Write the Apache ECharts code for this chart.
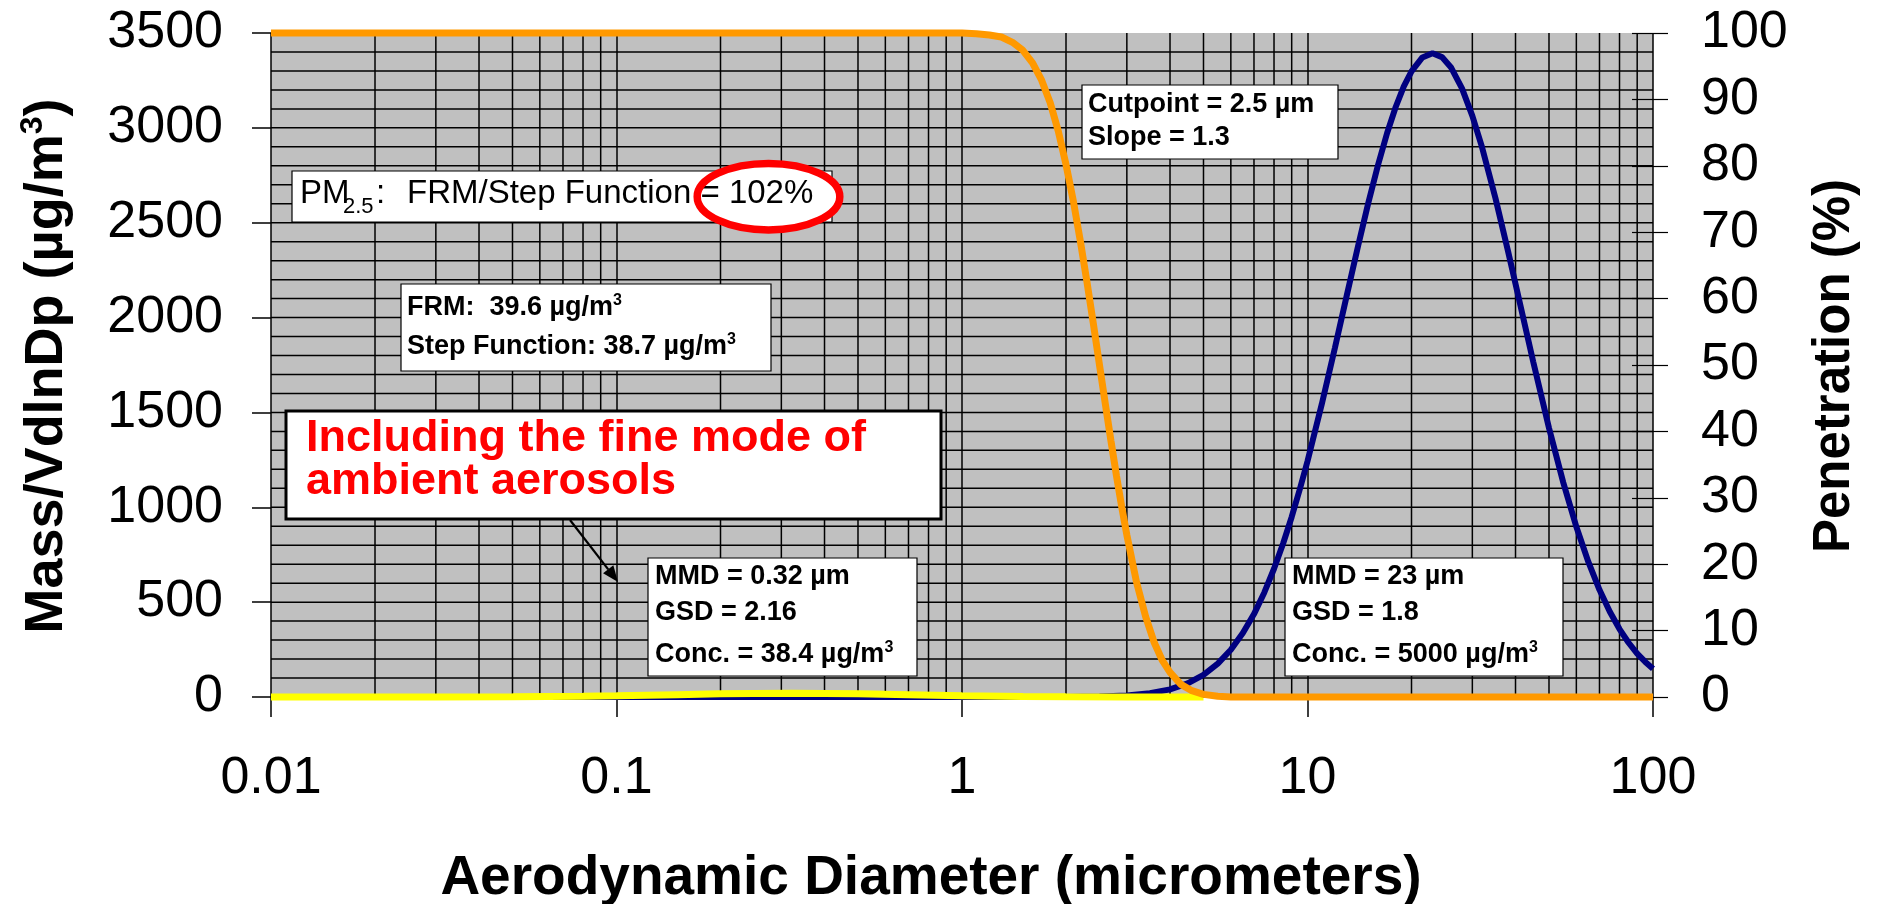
<!DOCTYPE html>
<html>
<head>
<meta charset="utf-8">
<script src="https://cdn.jsdelivr.net/npm/echarts@6/dist/echarts.min.js"></script>
<style>
  html, body { margin: 0; padding: 0; background: #ffffff; }
  #chart { width: 1881px; height: 904px; }
</style>
</head>
<body>
<div id="chart"></div>
<script>
// FRM inlet penetration curve (right axis, %)
const penetrationDp = [0.01, 0.1, 1.0, 1.1, 1.2, 1.3, 1.4, 1.5, 1.6, 1.7, 1.8, 1.9, 2.0, 2.1, 2.2, 2.3, 2.4, 2.5, 2.6, 2.7, 2.8, 2.9, 3.0, 3.2, 3.4, 3.6, 3.8, 4.0, 4.3, 4.6, 5.0, 5.5, 6.0, 10, 100];
const penetrationPct = [100, 100, 100, 99.9, 99.7, 99.4, 98.6, 97.4, 95.5, 92.9, 89.5, 85.2, 80.2, 74.7, 68.7, 62.5, 56.2, 50.0, 44.1, 38.5, 33.3, 28.6, 24.4, 17.3, 12.1, 8.2, 5.5, 3.7, 1.9, 1.0, 0.4, 0.1, 0, 0, 0];

// Coarse-mode mass distribution (left axis, ug/m3)
const coarseDp = [0.01, 0.1, 1.0, 2.0, 2.5, 3.0, 3.5, 4.0, 4.5, 5.0, 5.5, 6.0, 6.5, 7.0, 7.5, 8.0, 8.5, 9.0, 9.5, 10, 11, 12, 13, 14, 15, 16, 17, 18, 19, 20, 21.5, 23, 24.5, 26, 28, 30, 32, 35, 38, 40, 45, 50, 55, 60, 65, 70, 75, 80, 85, 90, 95, 100];
const coarseMass = [0, 0, 0, 0.6, 2.7, 8.4, 20, 40, 72, 117, 176, 249, 337, 437, 551, 676, 809, 949, 1095, 1243, 1544, 1839, 2119, 2375, 2605, 2804, 2973, 3110, 3219, 3298, 3371, 3393, 3373, 3320, 3208, 3063, 2898, 2629, 2355, 2178, 1768, 1418, 1130, 897, 712, 565, 449, 358, 286, 229, 185, 149];

// Fine-mode mass distribution (left axis, ug/m3)
const fineDp = [0.01, 0.03, 0.05, 0.08, 0.1, 0.15, 0.2, 0.25, 0.32, 0.4, 0.5, 0.7, 1.0, 1.5, 2.0, 3.0, 5.0];
const fineMass = [0, 0.2, 1.1, 3.9, 6.4, 12.3, 16.5, 18.9, 19.9, 19.1, 16.8, 11.9, 6.7, 2.6, 0.9, 0.1, 0];

// Axis tick labels
const diameterTicks = ['0.01', '0.1', '1', '10', '100'];
const massTicks = ['0', '500', '1000', '1500', '2000', '2500', '3000', '3500'];
const penetrationTicks = ['0', '10', '20', '30', '40', '50', '60', '70', '80', '90', '100'];

// Plot gridlines: log minors 2..9 per decade, and a horizontal line every 100 ug/m3 below the top edge
const decadeStarts = [0.01, 0.1, 1, 10];
const minorSteps = [2, 3, 4, 5, 6, 7, 8, 9];
const massGridStep = 100;
const massGridTop = 3500;

const FONT = "'Liberation Sans', Arial, Helvetica, sans-serif";
const pair = (xs, ys) => xs.map((x, i) => [x, ys[i]]);

const verticalGrid = [];
decadeStarts.forEach(d => minorSteps.forEach(m => verticalGrid.push([+(d * m).toPrecision(6), 0])));
const horizontalGrid = [];
for (let v = 0; v < massGridTop; v += massGridStep) horizontalGrid.push([0.01, v]);

const chart = echarts.init(document.getElementById('chart'), null, { renderer: 'canvas' });

// --- annotation helpers ---
function box(x, y, w, h, lw) {
  return { type: 'rect', z: 100, shape: { x: x, y: y, width: w, height: h },
           style: { fill: '#ffffff', stroke: '#000000', lineWidth: lw } };
}
const richBold = {
  b: { fontSize: 27, fontWeight: 'bold', fontFamily: FONT, fill: '#000', lineHeight: 30 },
  sup: { fontSize: 16, fontWeight: 'bold', fontFamily: FONT, fill: '#000', lineHeight: 10, verticalAlign: 'top' }
};
function boldLine(x, y, text) {
  return { type: 'text', z: 102, x: x, y: y,
           style: { text: text, rich: richBold, align: 'left', verticalAlign: 'middle',
                    fontSize: 27, fontWeight: 'bold', fontFamily: FONT, fill: '#000' } };
}
function plainText(x, y, text, size, weight, color) {
  return { type: 'text', z: 102, x: x, y: y,
           style: { text: text, align: 'left', verticalAlign: 'middle',
                    fontSize: size, fontWeight: weight, fontFamily: FONT, fill: color } };
}

// Callout arrow from the red note to the fine mode
const arrowFrom = [570, 520], arrowTo = [618, 582];
const adx = arrowTo[0] - arrowFrom[0], ady = arrowTo[1] - arrowFrom[1];
const alen = Math.sqrt(adx * adx + ady * ady);
const ux = adx / alen, uy = ady / alen;
const headL = 16, headW = 6.5;
const hbx = arrowTo[0] - ux * headL, hby = arrowTo[1] - uy * headL;

const graphics = [
  // PM2.5 ratio box with highlighted result
  box(292, 171, 540, 51, 1.2),
  { type: 'ellipse', z: 101, shape: { cx: 768.5, cy: 196.7, rx: 71.3, ry: 33.2 },
    style: { fill: '#ffffff', stroke: null } },
  plainText(300, 194, 'PM', 33, 'normal', '#000'),
  plainText(343, 206.5, '2.5', 22, 'normal', '#000'),
  plainText(376, 194, ':', 33, 'normal', '#000'),
  plainText(407, 194, 'FRM/Step Function = 102%', 33, 'normal', '#000'),
  { type: 'ellipse', z: 103, shape: { cx: 768.5, cy: 196.7, rx: 71.3, ry: 33.2 },
    style: { fill: null, stroke: '#ff0000', lineWidth: 7.5 } },

  // FRM vs step-function mass
  box(401, 284, 370, 87, 1.2),
  boldLine(407, 308, '{b|FRM:  39.6 µg/m}{sup|3}'),
  boldLine(407, 347, '{b|Step Function: 38.7 µg/m}{sup|3}'),

  // red note
  box(286, 411, 655, 108, 3),
  plainText(306, 438.5, 'Including the fine mode of', 45, 'bold', '#ff0000'),
  plainText(306, 482, 'ambient aerosols', 45, 'bold', '#ff0000'),
  { type: 'line', z: 104, shape: { x1: arrowFrom[0], y1: arrowFrom[1], x2: hbx, y2: hby },
    style: { stroke: '#000', lineWidth: 2.2 } },
  { type: 'polygon', z: 104,
    shape: { points: [arrowTo, [hbx - uy * headW, hby + ux * headW], [hbx + uy * headW, hby - ux * headW]] },
    style: { fill: '#000' } },

  // fine mode parameters
  box(648, 558, 269, 118, 1.2),
  boldLine(655, 577, '{b|MMD = 0.32 µm}'),
  boldLine(655, 613, '{b|GSD = 2.16}'),
  boldLine(655, 655, '{b|Conc. = 38.4 µg/m}{sup|3}'),

  // inlet parameters
  box(1082, 85, 256, 74, 1.2),
  boldLine(1088, 105, '{b|Cutpoint = 2.5 µm}'),
  boldLine(1088, 138, '{b|Slope = 1.3}'),

  // coarse mode parameters
  box(1285, 558, 278, 118, 1.2),
  boldLine(1292, 577, '{b|MMD = 23 µm}'),
  boldLine(1292, 613, '{b|GSD = 1.8}'),
  boldLine(1292, 655, '{b|Conc. = 5000 µg/m}{sup|3}'),

  // axis titles
  { type: 'text', z: 102, x: 931, y: 879,
    style: { text: 'Aerodynamic Diameter (micrometers)', align: 'center', verticalAlign: 'middle',
             fontSize: 55, fontWeight: 'bold', fontFamily: FONT, fill: '#000' } },
  { type: 'text', z: 102, x: 47, y: 366, rotation: Math.PI / 2,
    style: { text: '{t|Mass/VdlnDp (µg/m}{s|3}{t|)}', align: 'center', verticalAlign: 'middle',
             fontSize: 54, fontWeight: 'bold', fontFamily: FONT, fill: '#000',
             rich: {
               t: { fontSize: 54, fontWeight: 'bold', fontFamily: FONT, fill: '#000', lineHeight: 60 },
               s: { fontSize: 32, fontWeight: 'bold', fontFamily: FONT, fill: '#000', lineHeight: 20, verticalAlign: 'top' }
             } } },
  { type: 'text', z: 102, x: 1835, y: 366, rotation: Math.PI / 2,
    style: { text: 'Penetration (%)', align: 'center', verticalAlign: 'middle',
             fontSize: 51, fontWeight: 'bold', fontFamily: FONT, fill: '#000' } }
];

const gridLine = { color: '#000000', width: 1.5 };
const tickFont = { fontSize: 52, fontFamily: FONT, color: '#000000' };

const option = {
  animation: false,
  backgroundColor: '#ffffff',
  grid: { left: 271, right: 228, top: 33, bottom: 207, show: true,
          backgroundColor: '#c0c0c0', borderWidth: 0 },
  xAxis: {
    type: 'log', logBase: 10, min: 0.01, max: 100,
    axisLine: { show: false },
    axisTick: { show: true, length: 20, lineStyle: gridLine },
    axisLabel: Object.assign({ margin: 56, formatter: (v, i) => diameterTicks[i] }, tickFont),
    splitLine: { show: true, lineStyle: gridLine }
  },
  yAxis: [
    {
      type: 'value', position: 'left', min: 0, max: 3500, interval: 500,
      axisLine: { show: false },
      axisTick: { show: true, length: 19, lineStyle: gridLine },
      axisLabel: Object.assign({ margin: 48, formatter: (v, i) => massTicks[i] }, tickFont),
      splitLine: { show: false }
    },
    {
      type: 'value', position: 'right', min: 0, max: 100, interval: 10,
      axisLine: { show: false },
      axisTick: { show: true, length: 15, lineStyle: { color: '#000', width: 1.2 } },
      axisLabel: Object.assign({ margin: 48, formatter: (v, i) => penetrationTicks[i] }, tickFont),
      splitLine: { show: false }
    },
    {
      type: 'value', position: 'right', min: 0, max: 100, interval: 10,
      axisLine: { show: false },
      axisTick: { show: true, inside: true, length: 21, lineStyle: { color: '#000', width: 1.2 } },
      axisLabel: { show: false },
      splitLine: { show: false }
    }
  ],
  graphic: graphics,
  series: [
    {
      // minor vertical grid of the log axis
      type: 'custom', z: 1, silent: true, xAxisIndex: 0, yAxisIndex: 0,
      data: verticalGrid,
      renderItem: function (params, api) {
        const x = api.value(0);
        const p0 = api.coord([x, 0]);
        const p1 = api.coord([x, massGridTop]);
        return { type: 'line', shape: { x1: p0[0], y1: p0[1], x2: p1[0], y2: p1[1] },
                 style: { stroke: '#000', lineWidth: 1.5 } };
      }
    },
    {
      // horizontal grid every 100 ug/m3
      type: 'custom', z: 1, silent: true, xAxisIndex: 0, yAxisIndex: 0,
      data: horizontalGrid,
      renderItem: function (params, api) {
        const y = api.value(1);
        const p0 = api.coord([0.01, y]);
        const p1 = api.coord([100, y]);
        return { type: 'line', shape: { x1: p0[0], y1: p0[1], x2: p1[0], y2: p1[1] },
                 style: { stroke: '#000', lineWidth: 1.5 } };
      }
    },
    {
      name: 'Coarse mode', type: 'line', z: 3, yAxisIndex: 0, clip: false,
      data: pair(coarseDp, coarseMass), showSymbol: false, symbol: 'none',
      lineStyle: { color: '#000080', width: 6 }
    },
    {
      name: 'Fine mode', type: 'line', z: 4, yAxisIndex: 0, clip: false,
      data: pair(fineDp, fineMass), showSymbol: false, symbol: 'none',
      lineStyle: { color: '#ffff00', width: 7 }
    },
    {
      name: 'Penetration', type: 'line', z: 5, yAxisIndex: 1, clip: false,
      data: pair(penetrationDp, penetrationPct), showSymbol: false, symbol: 'none',
      lineStyle: { color: '#ff9900', width: 7 }
    }
  ]
};

chart.setOption(option);
</script>
</body>
</html>
